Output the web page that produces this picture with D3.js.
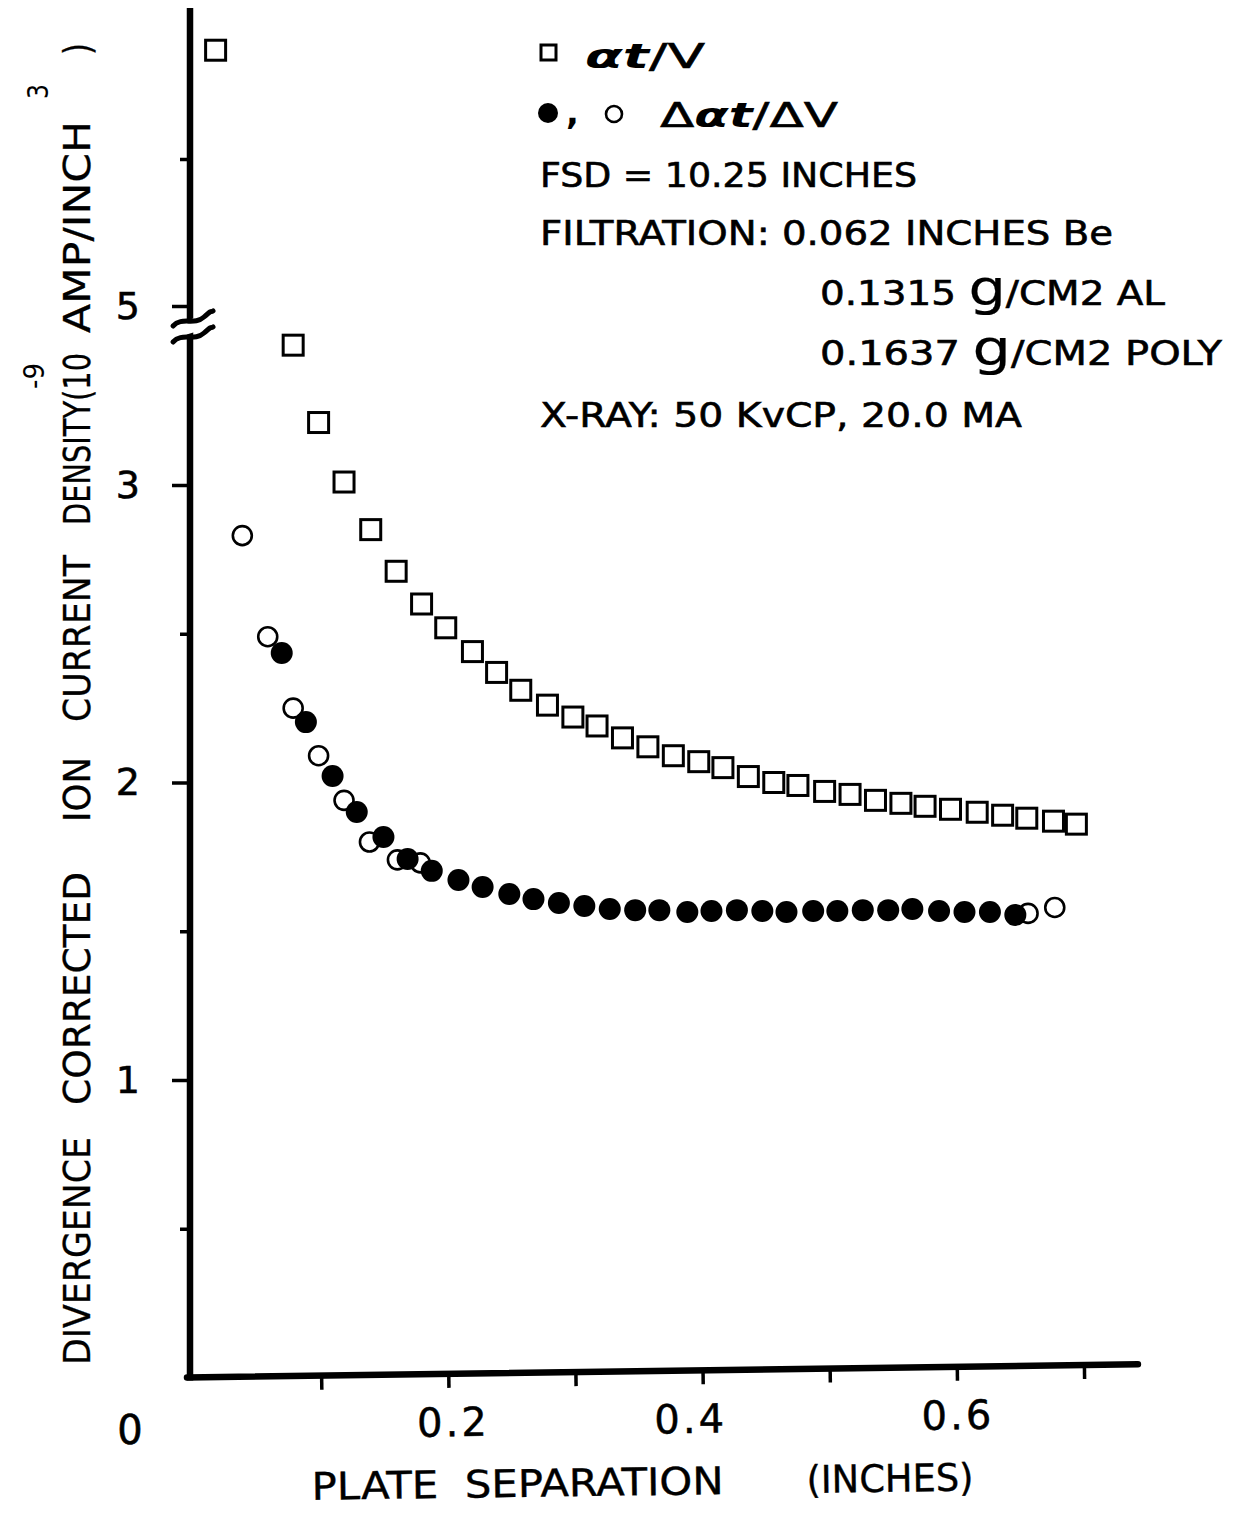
<!DOCTYPE html>
<html>
<head>
<meta charset="utf-8">
<script src="https://cdn.jsdelivr.net/npm/d3@7"></script>
<style>
  html, body { margin: 0; padding: 0; background: #fff; }
  svg { display: block; }
</style>
</head>
<body>
<svg id="chart" width="1238" height="1513"></svg>
<script>
// Plate separation (inches) and current density (1e-9 A/in^3)
const squareX = [0.017, 0.078, 0.098, 0.118, 0.139, 0.159, 0.179, 0.198, 0.219, 0.238, 0.257,
                 0.278, 0.298, 0.317, 0.337, 0.357, 0.377, 0.397, 0.416, 0.436, 0.456, 0.475,
                 0.496, 0.516, 0.536, 0.556, 0.575, 0.595, 0.616, 0.636, 0.655, 0.676, 0.694];
const squareY = [5.87, 3.47, 3.21, 3.01, 2.85, 2.71, 2.60, 2.52, 2.44, 2.37, 2.31,
                 2.26, 2.22, 2.19, 2.15, 2.12, 2.09, 2.07, 2.05, 2.02, 2.00, 1.99,
                 1.97, 1.96, 1.94, 1.93, 1.92, 1.91, 1.90, 1.89, 1.88, 1.87, 1.86];

const openX = [0.038, 0.058, 0.078, 0.098, 0.118, 0.138, 0.160, 0.178, 0.656, 0.677];
const openY = [2.83, 2.49, 2.25, 2.09, 1.94, 1.80, 1.74, 1.73, 1.56, 1.58];

const filledX = [0.069, 0.088, 0.109, 0.128, 0.149, 0.168, 0.187, 0.208, 0.227, 0.248,
                 0.267, 0.287, 0.307, 0.327, 0.347, 0.366, 0.388, 0.407, 0.427, 0.447,
                 0.466, 0.487, 0.506, 0.526, 0.546, 0.565, 0.586, 0.606, 0.626, 0.646];
const filledY = [2.435, 2.203, 2.022, 1.901, 1.817, 1.743, 1.703, 1.672, 1.649, 1.625,
                 1.608, 1.595, 1.585, 1.575, 1.571, 1.571, 1.565, 1.568, 1.571, 1.568,
                 1.565, 1.568, 1.568, 1.571, 1.571, 1.575, 1.568, 1.565, 1.565, 1.555];

const xTicks = [0.1, 0.2, 0.3, 0.4, 0.5, 0.6, 0.7];
const xTickLabels = [0.2, 0.4, 0.6];
const yMajorLow = [1, 2, 3];
const yMinorLow = [0.5, 1.5, 2.5];
const yMajorHigh = [5];
const yMinorHigh = [5.5];

const legendLines = [
  "FSD = 10.25 INCHES",
  "FILTRATION: 0.062 INCHES Be",
  "X-RAY: 50 KvCP, 20.0 MA"
];

const FONT = "'DejaVu Sans', 'Liberation Sans', sans-serif";
const svg = d3.select("#chart");

// Scales: the value axis is broken between 3.5 and 5
const x = d3.scaleLinear().domain([0, 0.7]).range([194, 1084]);
const yLow = d3.scaleLinear().domain([0, 3.5]).range([1377.5, 336.25]);
const yHigh = d3.scaleLinear().domain([5, 6]).range([306, 12]);
const y = v => (v >= 4 ? yHigh(v) : yLow(v));
const axisX = 190;
const xAxisEnd = 0.7425;

// ---------- vertical axis ----------
const yAxisG = svg.append("g");
yAxisG.append("line")
  .attr("x1", axisX).attr("x2", axisX)
  .attr("y1", yHigh(6.014)).attr("y2", yLow(0) + 3)
  .attr("stroke", "#000").attr("stroke-width", 6.5);

function yTicks(scale, values, size, labelled) {
  const ax = d3.axisLeft(scale).tickValues(values).tickSize(size).tickPadding(32)
    .tickFormat(labelled ? d3.format("d") : () => "");
  const g = svg.append("g").attr("transform", `translate(${axisX},0)`).call(ax);
  g.select(".domain").remove();
  g.selectAll(".tick line").attr("stroke", "#000").attr("stroke-width", 3.5);
  g.selectAll(".tick text")
    .attr("font-family", FONT).attr("font-size", 38).attr("fill", "#000")
    .attr("stroke", "#000").attr("stroke-width", 0.6);
}
yTicks(yLow, yMajorLow, 18, true);
yTicks(yLow, yMinorLow, 10, false);
yTicks(yHigh, yMajorHigh, 18, true);
yTicks(yHigh, yMinorHigh, 10, false);

// axis break
const breakG = svg.append("g");
const yb1 = 318, yb2 = 334;
breakG.append("path")
  .attr("d", `M${axisX - 8},${yb1 + 4} L${axisX + 8},${yb1 - 1} L${axisX + 8},${yb2 - 3} L${axisX - 8},${yb2 + 2}Z`)
  .attr("fill", "#fff");
[yb1, yb2].forEach(yb => {
  breakG.append("path")
    .attr("d", `M173,${yb + 8} C182,${yb - 2} 194,${yb + 8} 204,${yb - 1} S210,${yb - 5} 213,${yb - 7}`)
    .attr("fill", "none").attr("stroke", "#000").attr("stroke-width", 5).attr("stroke-linecap", "round");
});

// ---------- horizontal axis (drawn slightly tilted) ----------
const xAxisG = svg.append("g")
  .attr("transform", `rotate(-0.8, ${axisX}, ${yLow(0)}) translate(0, ${yLow(0)})`);
xAxisG.append("line")
  .attr("x1", axisX - 3).attr("x2", x(xAxisEnd))
  .attr("y1", 0).attr("y2", 0)
  .attr("stroke", "#000").attr("stroke-width", 6.5).attr("stroke-linecap", "round");
const xAx = d3.axisBottom(x).tickValues(xTicks).tickSize(14).tickPadding(20)
  .tickFormat(d => (xTickLabels.includes(d) ? d.toFixed(1) : ""));
const xTickG = xAxisG.append("g").call(xAx);
xTickG.select(".domain").remove();
xTickG.selectAll(".tick line").attr("stroke", "#000").attr("stroke-width", 3.5);
xTickG.selectAll(".tick text")
  .attr("font-family", FONT).attr("font-size", 40).attr("letter-spacing", 3).attr("fill", "#000")
  .attr("stroke", "#000").attr("stroke-width", 0.5);
// hand-lettered labels sit a little off their ticks
xTickG.selectAll(".tick text").filter(d => d === 0.4).attr("dx", -13);
xTickG.selectAll(".tick text").filter(d => d === 0.2).attr("dx", 4);

xAxisG.append("text")
  .attr("x", 310).attr("y", 124)
  .attr("font-family", FONT).attr("font-size", 38).attr("fill", "#000")
  .attr("stroke", "#000").attr("stroke-width", 0.4)
  .attr("textLength", 412).attr("lengthAdjust", "spacingAndGlyphs")
  .attr("xml:space", "preserve")
  .text("PLATE  SEPARATION");
xAxisG.append("text")
  .attr("x", 805).attr("y", 124)
  .attr("font-family", FONT).attr("font-size", 38).attr("fill", "#000")
  .attr("stroke", "#000").attr("stroke-width", 0.4)
  .attr("textLength", 167).attr("lengthAdjust", "spacingAndGlyphs")
  .text("(INCHES)");

// origin label
svg.append("text")
  .attr("x", x(0) - 64).attr("y", yLow(0) + 52)
  .attr("text-anchor", "middle").attr("dy", "0.35em")
  .attr("font-family", FONT).attr("font-size", 40).attr("fill", "#000")
  .attr("stroke", "#000").attr("stroke-width", 0.6)
  .text("0");

// ---------- vertical axis title ----------
const yt = svg.append("g").attr("transform", "translate(90,1365) rotate(-90)");
const titleWords = [
  { t: "DIVERGENCE", x0: 0, len: 228 },
  { t: "CORRECTED", x0: 260, len: 233 },
  { t: "ION", x0: 543, len: 65 },
  { t: "CURRENT", x0: 643, len: 167 },
  { t: "DENSITY(10", x0: 840, len: 172 },
  { t: "AMP/INCH", x0: 1032, len: 212 },
  { t: ")", x0: 1310, len: 12 }
];
titleWords.forEach(w => {
  yt.append("text")
    .attr("x", w.x0).attr("y", 0)
    .attr("font-family", FONT).attr("font-size", 38).attr("fill", "#000")
    .attr("stroke", "#000").attr("stroke-width", 0.3)
    .attr("textLength", w.len).attr("lengthAdjust", "spacingAndGlyphs")
    .text(w.t);
});
yt.append("text").attr("x", 976).attr("y", -46)
  .attr("font-family", FONT).attr("font-size", 28).attr("fill", "#000")
  .attr("textLength", 26).attr("lengthAdjust", "spacingAndGlyphs").text("-9");
yt.append("text").attr("x", 1266).attr("y", -42)
  .attr("font-family", FONT).attr("font-size", 28).attr("fill", "#000")
  .attr("textLength", 15).attr("lengthAdjust", "spacingAndGlyphs").text("3");

// ---------- data ----------
const plot = svg.append("g");
const sqSize = 20;
plot.selectAll("rect.sq")
  .data(squareX.map((d, i) => [d, squareY[i]]))
  .join("rect").attr("class", "sq")
  .attr("x", d => x(d[0]) - sqSize / 2).attr("y", d => y(d[1]) - sqSize / 2)
  .attr("width", sqSize).attr("height", sqSize)
  .attr("fill", "#fff").attr("stroke", "#000").attr("stroke-width", 3);

plot.selectAll("circle.open")
  .data(openX.map((d, i) => [d, openY[i]]))
  .join("circle").attr("class", "open")
  .attr("cx", d => x(d[0])).attr("cy", d => y(d[1])).attr("r", 9.5)
  .attr("fill", "#fff").attr("stroke", "#000").attr("stroke-width", 2.6);

plot.selectAll("circle.filled")
  .data(filledX.map((d, i) => [d, filledY[i]]))
  .join("circle").attr("class", "filled")
  .attr("cx", d => x(d[0])).attr("cy", d => y(d[1])).attr("r", 11)
  .attr("fill", "#000");

// ---------- legend and notes ----------
const lg = svg.append("g");
lg.append("rect").attr("x", 541).attr("y", 45).attr("width", 15).attr("height", 15)
  .attr("fill", "#fff").attr("stroke", "#000").attr("stroke-width", 3);
const l1 = lg.append("text").attr("x", 585).attr("y", 68)
  .attr("font-family", FONT).attr("font-size", 34).attr("fill", "#000")
  .attr("textLength", 120).attr("lengthAdjust", "spacingAndGlyphs");
l1.append("tspan").attr("font-style", "italic").attr("font-weight", "bold").text("αt");
l1.append("tspan").attr("stroke", "#000").attr("stroke-width", 0.6).text("/V");

lg.append("circle").attr("cx", 548).attr("cy", 113).attr("r", 10).attr("fill", "#000");
lg.append("text").attr("x", 566).attr("y", 124)
  .attr("font-family", FONT).attr("font-size", 34).attr("font-weight", "bold").attr("fill", "#000").text(",");
lg.append("circle").attr("cx", 614).attr("cy", 114).attr("r", 8)
  .attr("fill", "#fff").attr("stroke", "#000").attr("stroke-width", 2.6);
const l2 = lg.append("text").attr("x", 660).attr("y", 127)
  .attr("font-family", FONT).attr("font-size", 34).attr("fill", "#000")
  .attr("textLength", 178).attr("lengthAdjust", "spacingAndGlyphs");
l2.append("tspan").attr("stroke", "#000").attr("stroke-width", 0.6).text("Δ");
l2.append("tspan").attr("font-style", "italic").attr("font-weight", "bold").text("αt");
l2.append("tspan").attr("stroke", "#000").attr("stroke-width", 0.6).text("/ΔV");

function note(txt, x0, yb, len) {
  return lg.append("text").attr("x", x0).attr("y", yb)
    .attr("font-family", FONT).attr("font-size", 33).attr("fill", "#000")
    .attr("stroke", "#000").attr("stroke-width", 0.6)
    .attr("textLength", len).attr("lengthAdjust", "spacingAndGlyphs")
    .text(txt);
}
note(legendLines[0], 540, 187, 377);
note(legendLines[1], 540, 245, 573);
note(legendLines[2], 540, 427, 482);

function massLine(num, unit, yb, len) {
  const t = lg.append("text").attr("x", 820).attr("y", yb)
    .attr("font-family", FONT).attr("font-size", 33).attr("fill", "#000")
    .attr("stroke", "#000").attr("stroke-width", 0.6)
    .attr("textLength", len).attr("lengthAdjust", "spacingAndGlyphs");
  t.append("tspan").text(num + " ");
  t.append("tspan").attr("font-size", 50).attr("stroke-width", 0.2).text("g");
  t.append("tspan").text("/" + unit);
}
massLine("0.1315", "CM2 AL", 305, 345);
massLine("0.1637", "CM2 POLY", 365, 402);
</script>
</body>
</html>
